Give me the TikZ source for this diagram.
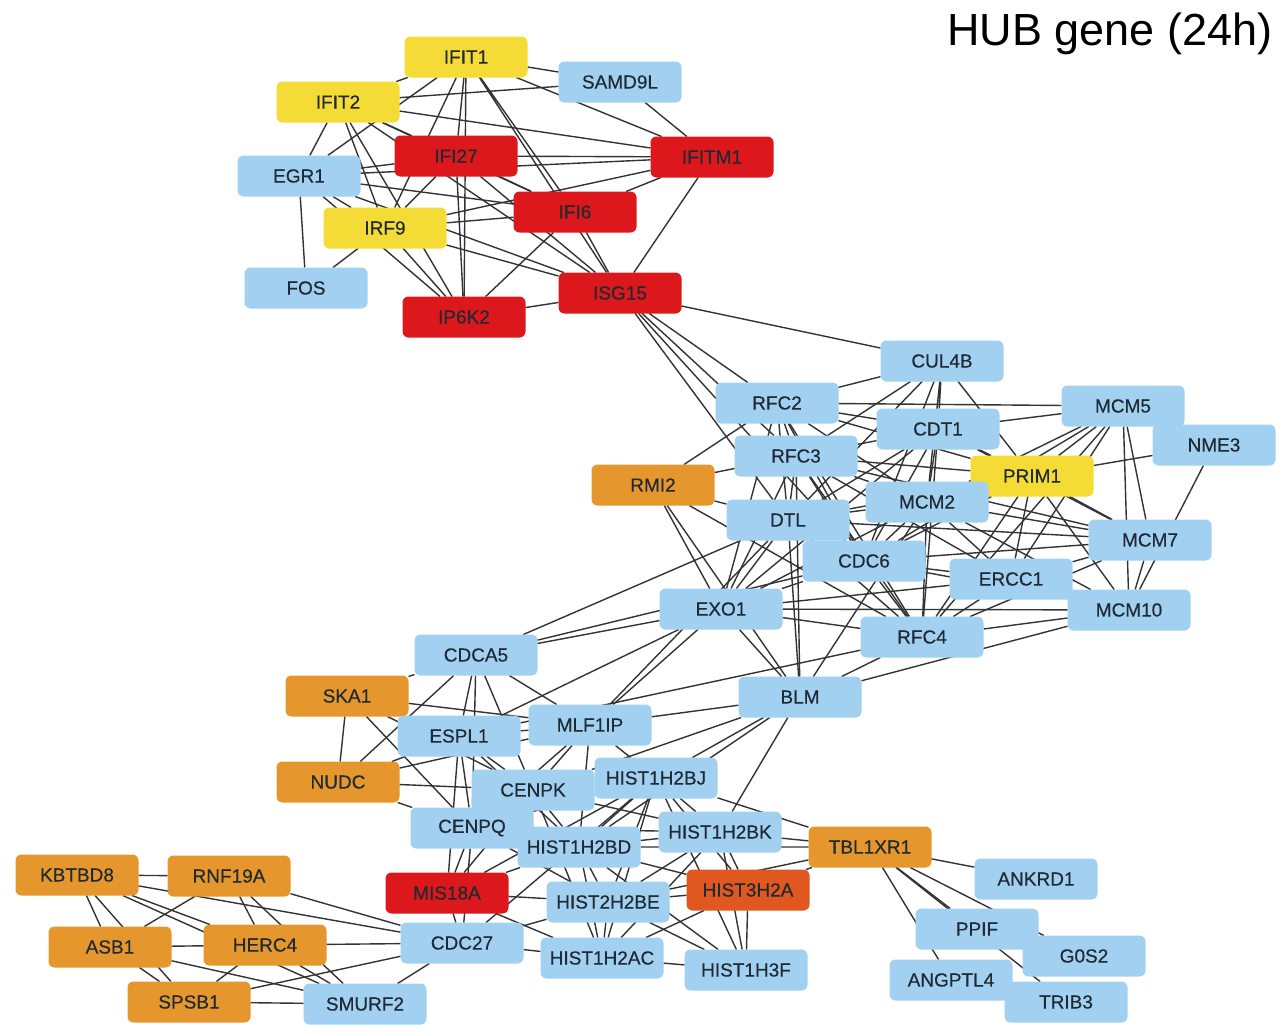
\documentclass[tikz,border=0pt]{standalone}
\usepackage{fontspec}
\usepackage{tikz}
\newfontfamily\genefont[UprightFeatures={FakeBold=0.35}]{Liberation Sans}
\newfontfamily\titlefont{Liberation Sans}
\definecolor{geneblue}{HTML}{A2D0F1}
\definecolor{geneyellow}{HTML}{F4DB36}
\definecolor{genered}{HTML}{DC181C}
\definecolor{geneorange}{HTML}{E5962D}
\definecolor{genedeep}{HTML}{E0571F}
\definecolor{linkgray}{HTML}{333333}
\definecolor{genetext}{HTML}{1F2A33}
\pgfdeclarelayer{links}
\pgfsetlayers{links,main}

\begin{document}
\begin{tikzpicture}[
        x = 0.5pt, y = -0.5pt,
        gene/.style = {
            rounded corners = 3pt,
            fill = #1,
            minimum width = 61.5pt,
            minimum height = 20.5pt,
            inner sep = 0pt,
            outer sep = 0pt,
            text = genetext,
            font = \genefont\fontsize{9.5}{10}\selectfont
        },
        gene/.default = geneblue,
        link/.style = {draw = linkgray, line width = 0.7pt}
        ]
        \useasboundingbox (0,0) rectangle (1281,1024);
%
        \node[font=\titlefont\fontsize{22.5}{24}\selectfont, text=black] (title) at (1110,34) {HUB gene (24h)};
%
% interferon cluster
        \node[gene=geneyellow] (IFIT1) at (466,57) {IFIT1};
        \node[gene] (SAMD9L) at (620,82) {SAMD9L};
        \node[gene=geneyellow] (IFIT2) at (338,102) {IFIT2};
        \node[gene=genered] (IFI27) at (456,156) {IFI27};
        \node[gene=genered] (IFITM1) at (712,157) {IFITM1};
        \node[gene] (EGR1) at (299,176) {EGR1};
        \node[gene=genered] (IFI6) at (575,212) {IFI6};
        \node[gene=geneyellow] (IRF9) at (385,228) {IRF9};
        \node[gene] (FOS) at (306,288) {FOS};
        \node[gene=genered] (ISG15) at (620,293) {ISG15};
        \node[gene=genered] (IP6K2) at (464,317) {IP6K2};
%
% replication cluster
        \node[gene] (CUL4B) at (942,361) {CUL4B};
        \node[gene] (RFC2) at (777,403) {RFC2};
        \node[gene] (MCM5) at (1123,406) {MCM5};
        \node[gene] (CDT1) at (938,429) {CDT1};
        \node[gene] (NME3) at (1214,445) {NME3};
        \node[gene] (RFC3) at (796,456) {RFC3};
        \node[gene=geneorange] (RMI2) at (653,485) {RMI2};
        \node[gene=geneyellow] (PRIM1) at (1032,476) {PRIM1};
        \node[gene] (MCM2) at (927,502) {MCM2};
        \node[gene] (DTL) at (788,520) {DTL};
        \node[gene] (MCM7) at (1150,540) {MCM7};
        \node[gene] (CDC6) at (864,561) {CDC6};
        \node[gene] (ERCC1) at (1011,579) {ERCC1};
        \node[gene] (EXO1) at (721,609) {EXO1};
        \node[gene] (MCM10) at (1129,610) {MCM10};
        \node[gene] (RFC4) at (922,637) {RFC4};
        \node[gene] (BLM) at (800,697) {BLM};
%
% kinetochore and histone cluster
        \node[gene] (CDCA5) at (476,655) {CDCA5};
        \node[gene=geneorange] (SKA1) at (347,696) {SKA1};
        \node[gene] (MLF1IP) at (590,725) {MLF1IP};
        \node[gene] (ESPL1) at (459,736) {ESPL1};
        \node[gene=geneorange] (NUDC) at (338,782) {NUDC};
        \node[gene] (CENPK) at (533,790) {CENPK};
        \node[gene] (HIST1H2BJ) at (656,778) {HIST1H2BJ};
        \node[gene] (CENPQ) at (472,828) {CENPQ};
        \node[gene] (HIST1H2BK) at (720,832) {HIST1H2BK};
        \node[gene=geneorange] (TBL1XR1) at (870,847) {TBL1XR1};
        \node[gene] (HIST1H2BD) at (579,847) {HIST1H2BD};
        \node[gene=genered] (MIS18A) at (447,893) {MIS18A};
        \node[gene=genedeep] (HIST3H2A) at (748,890) {HIST3H2A};
        \node[gene] (HIST2H2BE) at (608,902) {HIST2H2BE};
        \node[gene] (CDC27) at (462,943) {CDC27};
        \node[gene] (HIST1H2AC) at (602,958) {HIST1H2AC};
        \node[gene] (HIST1H3F) at (746,970) {HIST1H3F};
%
% ubiquitin cluster
        \node[gene=geneorange] (KBTBD8) at (77,875) {KBTBD8};
        \node[gene=geneorange] (RNF19A) at (229,876) {RNF19A};
        \node[gene=geneorange] (ASB1) at (110,947) {ASB1};
        \node[gene=geneorange] (HERC4) at (265,945) {HERC4};
        \node[gene=geneorange] (SPSB1) at (189,1002) {SPSB1};
        \node[gene] (SMURF2) at (365,1004) {SMURF2};
%
% TBL1XR1 targets
        \node[gene] (ANKRD1) at (1036,879) {ANKRD1};
        \node[gene] (PPIF) at (977,929) {PPIF};
        \node[gene] (G0S2) at (1084,956) {G0S2};
        \node[gene] (ANGPTL4) at (951,980) {ANGPTL4};
        \node[gene] (TRIB3) at (1066,1002) {TRIB3};
%
%
\begin{pgfonlayer}{links}
        \draw[link] (IFIT1) -- (SAMD9L) (IFIT1) -- (IFIT2) (IFIT1) -- (IFI27) (IFIT1) -- (IRF9);
        \draw[link] (IFIT1) -- (IP6K2) (IFIT1) -- (IFI6) (IFIT1) -- (ISG15) (IFIT1) -- (IFITM1) (IFIT1) -- (EGR1);
        \draw[link] (SAMD9L) -- (IFIT2) (SAMD9L) -- (IFITM1);
        \draw[link] (IFIT2) -- (IFITM1) (IFIT2) -- (IFI27) (IFIT2) -- (EGR1) (IFIT2) -- (IRF9);
        \draw[link] (IFIT2) -- (IP6K2) (IFIT2) -- (IFI6) (IFIT2) -- (ISG15);
        \draw[link] (EGR1) -- (IFI27) (EGR1) -- (IFITM1) (EGR1) -- (IFI6) (EGR1) -- (FOS);
        \draw[link] (EGR1) -- (IRF9) (EGR1) -- (ISG15) (EGR1) -- (IP6K2);
        \draw[link] (IFI27) -- (IFITM1) (IFI27) -- (IRF9) (IFI27) -- (IP6K2) (IFI27) -- (IFI6) (IFI27) -- (ISG15);
        \draw[link] (IFITM1) -- (IFI6) (IFITM1) -- (ISG15) (IFITM1) -- (IRF9);
        \draw[link] (IFI6) -- (IRF9) (IFI6) -- (IP6K2) (IFI6) -- (ISG15);
        \draw[link] (IRF9) -- (FOS) (IRF9) -- (IP6K2) (IRF9) -- (ISG15);
        \draw[link] (IP6K2) -- (ISG15);
%
        \draw[link] (ISG15) -- (CUL4B) (ISG15) -- (RFC2) (ISG15) -- (RFC3) (ISG15) -- (DTL) (ISG15) -- (CDC6);
%
        \draw[link] (CUL4B) -- (RFC2) (CUL4B) -- (RFC3) (CUL4B) -- (CDT1) (CUL4B) -- (MCM2);
        \draw[link] (CUL4B) -- (DTL) (CUL4B) -- (CDC6) (CUL4B) -- (PRIM1);
        \draw[link] (RFC2) -- (MCM5) (RFC2) -- (CDT1) (RFC2) -- (RFC3) (RFC2) -- (DTL) (RFC2) -- (CDC6);
        \draw[link] (RFC2) -- (MCM2) (RFC2) -- (RMI2) (RFC2) -- (RFC4) (RFC2) -- (EXO1) (RFC2) -- (PRIM1);
        \draw[link] (MCM5) -- (CDT1) (MCM5) -- (NME3) (MCM5) -- (PRIM1) (MCM5) -- (MCM2) (MCM5) -- (MCM7);
        \draw[link] (MCM5) -- (MCM10) (MCM5) -- (CDC6) (MCM5) -- (ERCC1) (MCM5) -- (RFC4);
        \draw[link] (CDT1) -- (RFC3) (CDT1) -- (MCM2) (CDT1) -- (DTL) (CDT1) -- (CDC6);
        \draw[link] (CDT1) -- (PRIM1) (CDT1) -- (RFC4) (CDT1) -- (EXO1) (CDT1) -- (MCM7);
        \draw[link] (NME3) -- (PRIM1) (NME3) -- (MCM10);
        \draw[link] (RFC3) -- (RMI2) (RFC3) -- (DTL) (RFC3) -- (MCM2) (RFC3) -- (CDC6) (RFC3) -- (PRIM1);
        \draw[link] (RFC3) -- (RFC4) (RFC3) -- (EXO1) (RFC3) -- (BLM) (RFC3) -- (MCM7) (RFC3) -- (ERCC1);
        \draw[link] (PRIM1) -- (MCM2) (PRIM1) -- (MCM7) (PRIM1) -- (MCM10) (PRIM1) -- (ERCC1);
        \draw[link] (PRIM1) -- (CDC6) (PRIM1) -- (RFC4) (PRIM1) -- (DTL);
        \draw[link] (MCM2) -- (DTL) (MCM2) -- (CDC6) (MCM2) -- (ERCC1) (MCM2) -- (RFC4);
        \draw[link] (MCM2) -- (MCM7) (MCM2) -- (MCM10) (MCM2) -- (EXO1) (MCM2) -- (BLM);
        \draw[link] (DTL) -- (RMI2) (DTL) -- (CDC6) (DTL) -- (EXO1) (DTL) -- (BLM);
        \draw[link] (DTL) -- (RFC4) (DTL) -- (MCM7) (DTL) -- (CDCA5);
        \draw[link] (MCM7) -- (ERCC1) (MCM7) -- (MCM10) (MCM7) -- (CDC6) (MCM7) -- (RFC4);
        \draw[link] (CDC6) -- (ERCC1) (CDC6) -- (EXO1) (CDC6) -- (RFC4) (CDC6) -- (MCM10) (CDC6) -- (CDCA5);
        \draw[link] (ERCC1) -- (RFC4) (ERCC1) -- (MCM10) (ERCC1) -- (EXO1);
        \draw[link] (EXO1) -- (MCM10) (EXO1) -- (RFC4) (EXO1) -- (BLM) (EXO1) -- (RMI2);
        \draw[link] (EXO1) -- (CDCA5) (EXO1) -- (ESPL1) (EXO1) -- (MLF1IP);
        \draw[link] (MCM10) -- (RFC4) (MCM10) -- (BLM) (RFC4) -- (BLM);
        \draw[link] (RMI2) -- (BLM) (RMI2) -- (RFC4);
%
        \draw[link] (BLM) -- (MLF1IP) (BLM) -- (HIST1H2BJ) (BLM) -- (HIST1H2BD) (BLM) -- (HIST1H2BK) (BLM) -- (CENPK);
        \draw[link] (ESPL1) -- (RFC4) (MLF1IP) -- (DTL);
%
        \draw[link] (CDCA5) -- (SKA1) (CDCA5) -- (ESPL1) (CDCA5) -- (MLF1IP) (CDCA5) -- (CENPK);
        \draw[link] (CDCA5) -- (NUDC) (CDCA5) -- (CENPQ);
        \draw[link] (SKA1) -- (NUDC) (SKA1) -- (ESPL1) (SKA1) -- (CENPK) (SKA1) -- (MLF1IP) (SKA1) -- (CENPQ);
        \draw[link] (MLF1IP) -- (ESPL1) (MLF1IP) -- (CENPK) (MLF1IP) -- (CENPQ) (MLF1IP) -- (NUDC);
        \draw[link] (MLF1IP) -- (HIST1H2BJ) (MLF1IP) -- (HIST1H2BD);
        \draw[link] (ESPL1) -- (NUDC) (ESPL1) -- (CENPK) (ESPL1) -- (CENPQ) (ESPL1) -- (MIS18A) (ESPL1) -- (HIST1H2BD);
        \draw[link] (NUDC) -- (CENPK) (NUDC) -- (CENPQ);
        \draw[link] (CENPK) -- (CENPQ) (CENPK) -- (MIS18A) (CENPK) -- (HIST1H2AC);
        \draw[link] (CENPQ) -- (MIS18A) (CENPQ) -- (HIST2H2BE);
%
        \draw[link] (HIST1H2BJ) -- (CENPK) (HIST1H2BJ) -- (HIST1H2BK) (HIST1H2BJ) -- (HIST1H2BD) (HIST1H2BJ) -- (HIST2H2BE);
        \draw[link] (HIST1H2BJ) -- (HIST3H2A) (HIST1H2BJ) -- (HIST1H2AC) (HIST1H2BJ) -- (HIST1H3F);
        \draw[link] (HIST1H2BJ) -- (TBL1XR1) (HIST1H2BJ) -- (CENPQ) (HIST1H2BJ) -- (MIS18A);
        \draw[link] (HIST1H2BK) -- (HIST1H2BD) (HIST1H2BK) -- (HIST2H2BE) (HIST1H2BK) -- (HIST3H2A) (HIST1H2BK) -- (HIST1H2AC);
        \draw[link] (HIST1H2BK) -- (HIST1H3F) (HIST1H2BK) -- (TBL1XR1) (HIST1H2BK) -- (CENPK) (HIST1H2BK) -- (CENPQ);
        \draw[link] (HIST1H2BD) -- (HIST2H2BE) (HIST1H2BD) -- (HIST3H2A) (HIST1H2BD) -- (HIST1H2AC) (HIST1H2BD) -- (HIST1H3F);
        \draw[link] (HIST1H2BD) -- (TBL1XR1) (HIST1H2BD) -- (CENPK) (HIST1H2BD) -- (CENPQ) (HIST1H2BD) -- (MIS18A);
        \draw[link] (HIST2H2BE) -- (HIST3H2A) (HIST2H2BE) -- (HIST1H2AC) (HIST2H2BE) -- (HIST1H3F);
        \draw[link] (HIST2H2BE) -- (MIS18A) (HIST2H2BE) -- (CDC27) (HIST2H2BE) -- (TBL1XR1);
        \draw[link] (HIST3H2A) -- (HIST1H2AC) (HIST3H2A) -- (HIST1H3F) (HIST3H2A) -- (TBL1XR1);
        \draw[link] (HIST1H2AC) -- (HIST1H3F) (HIST1H2AC) -- (CDC27) (HIST1H2AC) -- (MIS18A);
        \draw[link] (MIS18A) -- (CDC27) (CDC27) -- (HIST1H2BJ) (CDC27) -- (CENPQ);
%
        \draw[link] (TBL1XR1) -- (ANKRD1) (TBL1XR1) -- (PPIF) (TBL1XR1) -- (G0S2);
        \draw[link] (TBL1XR1) -- (ANGPTL4) (TBL1XR1) -- (TRIB3);
%
        \draw[link] (KBTBD8) -- (RNF19A) (KBTBD8) -- (ASB1) (KBTBD8) -- (SPSB1) (KBTBD8) -- (HERC4);
        \draw[link] (KBTBD8) -- (SMURF2) (KBTBD8) -- (CDC27);
        \draw[link] (RNF19A) -- (ASB1) (RNF19A) -- (HERC4) (RNF19A) -- (SMURF2) (RNF19A) -- (CDC27);
        \draw[link] (ASB1) -- (HERC4) (ASB1) -- (SPSB1) (ASB1) -- (SMURF2);
        \draw[link] (HERC4) -- (CDC27) (HERC4) -- (SPSB1) (HERC4) -- (SMURF2);
        \draw[link] (SPSB1) -- (SMURF2) (SPSB1) -- (CDC27) (CDC27) -- (SMURF2);
\end{pgfonlayer}
    \end{tikzpicture}
\end{document}
